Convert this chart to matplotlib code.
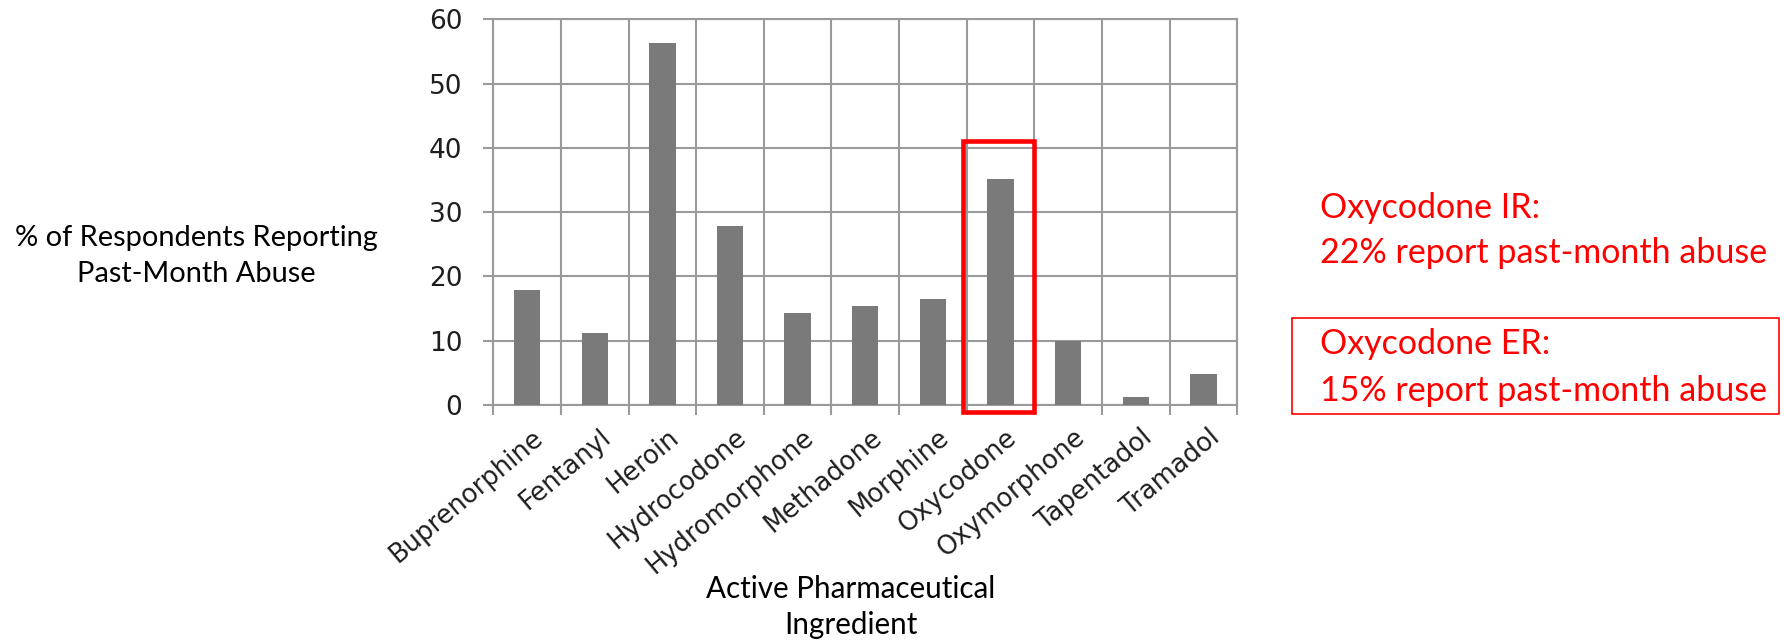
import matplotlib
matplotlib.use("Agg")
import matplotlib.pyplot as plt
from matplotlib.patches import Rectangle
from matplotlib.ticker import FixedLocator, NullFormatter
from matplotlib.transforms import ScaledTranslation

# Past-month abuse by active pharmaceutical ingredient
ingredients = ["Buprenorphine", "Fentanyl", "Heroin", "Hydrocodone", "Hydromorphone",
               "Methadone", "Morphine", "Oxycodone", "Oxymorphone", "Tapentadol", "Tramadol"]
pct_abuse = [17.9, 11.2, 56.3, 27.9, 14.3, 15.4, 16.5, 35.1, 10.0, 1.2, 4.8]
y_ticks = [0, 10, 20, 30, 40, 50, 60]

highlight = "Oxycodone"
ir_lines = ["Oxycodone IR:", "22% report past-month abuse"]
er_lines = ["Oxycodone ER:", "15% report past-month abuse"]
y_title = "% of Respondents Reporting\nPast-Month Abuse"
x_title = "Active Pharmaceutical\nIngredient"

GRID = "#9a9a9a"
BAR = "#7a7a7a"
RED = "#ff0000"
TICK_TXT = "#1e1e1e"
TEXT_FONT = ["Lato", "DejaVu Sans"]

fig = plt.figure(figsize=(17.84, 6.4), dpi=100)
ax = fig.add_axes([0.2765, 0.3672, 0.417, 0.6026])

x = list(range(len(ingredients)))
ax.bar(x, pct_abuse, width=0.39, color=BAR, zorder=3)

ax.set_xlim(-0.5, len(ingredients) - 0.5)
ax.set_ylim(0, 60)

# y axis: gridlines with outward ticks
ax.set_yticks(y_ticks)
ax.yaxis.grid(True, color=GRID, linewidth=1.5, zorder=0)
ax.tick_params(axis="y", length=7.2, width=1.5, color=GRID, pad=15,
               labelsize=19, labelcolor=TICK_TXT)

# x axis: gridlines/ticks between categories, labels at centres
ax.set_xticks(x)
ax.set_xticklabels(ingredients, rotation=40, ha="right", va="top", rotation_mode="anchor")
ax.tick_params(axis="x", which="major", length=0, pad=14,
               labelsize=18.5, labelcolor=TICK_TXT)
shift = ScaledTranslation(5 / 100, 0, fig.dpi_scale_trans)
for lbl in ax.get_xticklabels():
    lbl.set_transform(lbl.get_transform() + shift)
ax.xaxis.set_minor_locator(FixedLocator([i - 0.5 for i in range(len(ingredients) + 1)]))
ax.xaxis.set_minor_formatter(NullFormatter())
ax.tick_params(axis="x", which="minor", length=7.2, width=1.5, color=GRID)
ax.xaxis.grid(True, which="minor", color=GRID, linewidth=1.5, zorder=0)

for s in ax.spines.values():
    s.set_color(GRID)
    s.set_linewidth(1.5)

# highlight box around the oxycodone bar
hi = ingredients.index(highlight)
ax.add_patch(Rectangle((hi - 0.55, -1.1), 1.05, 42.2, fill=False,
                       edgecolor=RED, linewidth=3.3, zorder=5, clip_on=False))

# axis titles
fig.text(0.1099, 0.60, y_title, ha="center", va="center", multialignment="center",
         fontsize=20.9, family=TEXT_FONT, color="black", linespacing=1.45)
fig.text(0.477, 0.0515, x_title, ha="center", va="center", multialignment="center",
         fontsize=21.3, family=TEXT_FONT, color="black", linespacing=1.35)

# side annotations
tx = 1320 / 1784
for line, yb in zip(ir_lines, [218, 263]):
    fig.text(tx, 1 - yb / 640, line, ha="left", va="baseline",
             fontsize=24.5, family=TEXT_FONT, color=RED)
for line, yb in zip(er_lines, [354, 401]):
    fig.text(tx, 1 - yb / 640, line, ha="left", va="baseline",
             fontsize=24.5, family=TEXT_FONT, color=RED)
fig.add_artist(Rectangle((1291.6 / 1784, 1 - 414 / 640), (1779 - 1291.6) / 1784, 96 / 640,
                         transform=fig.transFigure, fill=False, edgecolor=RED, linewidth=1.2))

fig.savefig("out.png", dpi=100, facecolor="white")
